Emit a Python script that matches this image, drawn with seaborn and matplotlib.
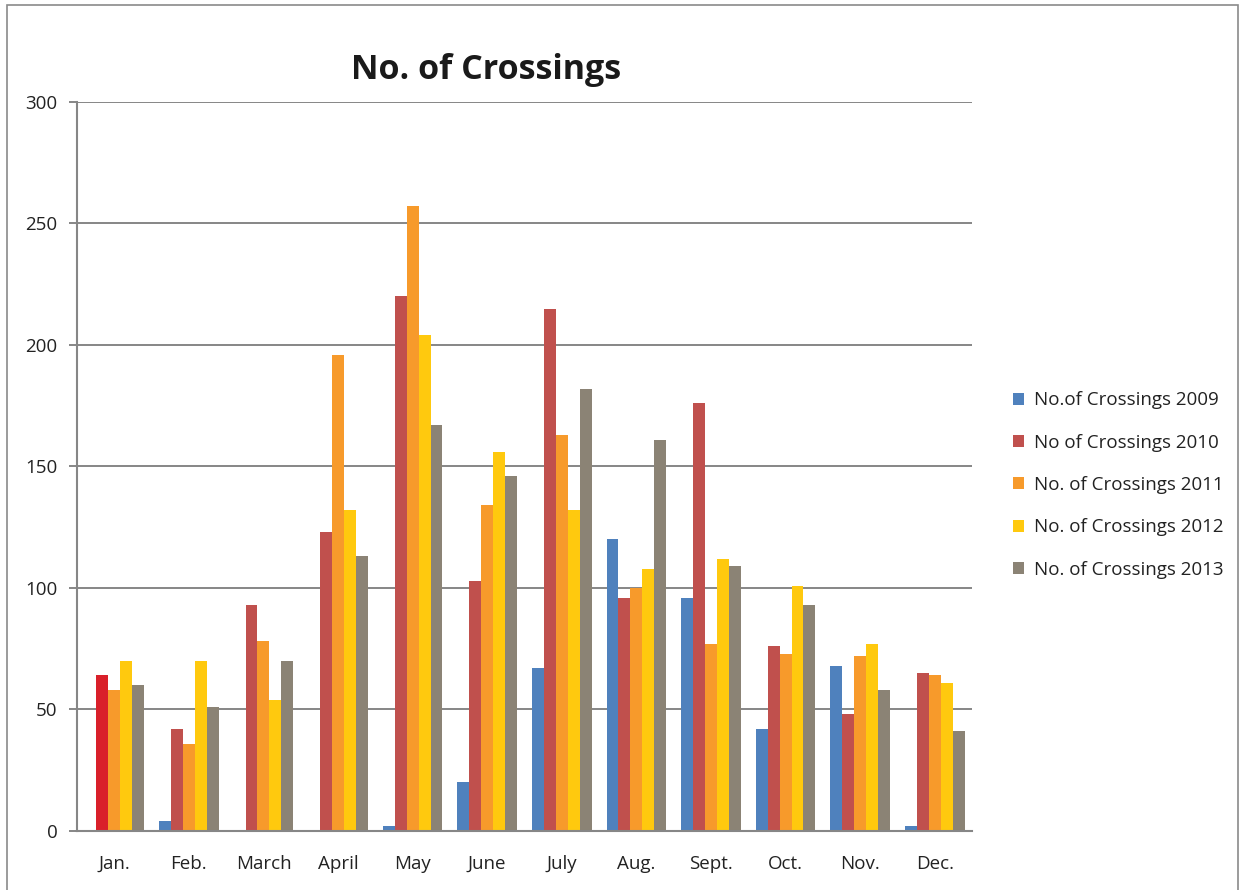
import matplotlib
matplotlib.use("Agg")
import matplotlib.pyplot as plt
from matplotlib.patches import Rectangle, Patch
import numpy as np
import pandas as pd
import seaborn as sns

months = ["Jan.", "Feb.", "March", "April", "May", "June", "July",
          "Aug.", "Sept.", "Oct.", "Nov.", "Dec."]
series_names = ["No.of Crossings 2009", "No of Crossings 2010",
                "No. of Crossings 2011", "No. of Crossings 2012",
                "No. of Crossings 2013"]
crossings_2009 = [0, 4, 0, 0, 2, 20, 67, 120, 96, 42, 68, 2]
crossings_2010 = [64, 42, 93, 123, 220, 103, 215, 96, 176, 76, 48, 65]
crossings_2011 = [58, 36, 78, 196, 257, 134, 163, 100, 77, 73, 72, 64]
crossings_2012 = [70, 70, 54, 132, 204, 156, 132, 108, 112, 101, 77, 61]
crossings_2013 = [60, 51, 70, 113, 167, 146, 182, 161, 109, 93, 58, 41]
y_ticks = [0, 50, 100, 150, 200, 250, 300]

colors = ["#4F81BD", "#C0504D", "#F79A2B", "#FFC90E", "#8B8375"]
jan_2010_color = "#D9202A"

all_series = [crossings_2009, crossings_2010, crossings_2011,
              crossings_2012, crossings_2013]
df = pd.DataFrame({
    "month": months * len(series_names),
    "series": np.repeat(series_names, len(months)),
    "value": np.concatenate(all_series),
})

sns.set_theme(style="white")
plt.rcParams["font.family"] = ["Open Sans", "DejaVu Sans"]

fig = plt.figure(figsize=(12.42, 8.9), dpi=100)
ax = fig.add_axes([0.062, 0.0663, 0.7206, 0.8191])

sns.barplot(data=df, x="month", y="value", hue="series", order=months,
            hue_order=series_names, palette=colors, width=0.8,
            linewidth=0, saturation=1, legend=False, ax=ax)

# January 2010 bar is highlighted in a brighter red
red_bars = ax.containers[1]
red_bars[0].set_facecolor(jan_2010_color)

grid_col = "#868686"
ax.set_ylim(0, 300)
ax.set_xlim(-0.5, len(months) - 0.5)
ax.set_yticks(y_ticks)
ax.set_yticklabels([str(t) for t in y_ticks], fontsize=13.5, color="#222222")
ax.yaxis.grid(True, color=grid_col, linewidth=1.4)
ax.set_axisbelow(True)
ax.set_xlabel("")
ax.set_ylabel("")
ax.tick_params(axis="x", which="major", length=0, pad=17, labelsize=13.5,
               labelcolor="#222222")
ax.set_xticks(np.arange(-0.5, len(months)), minor=True)
ax.tick_params(axis="x", which="minor", length=6, width=1.4, color=grid_col,
               direction="out")
ax.tick_params(axis="y", length=6, width=1.4, color=grid_col, pad=8,
               direction="out", left=True)
for side in ["top", "right"]:
    ax.spines[side].set_visible(False)
for side in ["left", "bottom"]:
    ax.spines[side].set_color(grid_col)
    ax.spines[side].set_linewidth(1.5)

fig.text(486 / 1242, 1 - 70 / 890, "No. of Crossings", ha="center",
         va="center", fontsize=24.5, fontweight="bold", color="#1a1a1a")

handles = [Patch(facecolor=c, edgecolor="none") for c in colors]
fig.legend(handles, series_names, loc="center left",
           bbox_to_anchor=(996 / 1242, 1 - 485 / 890), frameon=False,
           fontsize=13.5, handlelength=0.6, handleheight=0.6,
           handletextpad=0.55, labelspacing=1.3, labelcolor="#222222")

# chart border
fig.patches.append(Rectangle((7 / 1242, -0.01), 1231 / 1242, 1 - 5 / 890 + 0.01,
                             transform=fig.transFigure, fill=False,
                             edgecolor="#8a8a8a", linewidth=1.2))

fig.savefig("out.png", dpi=100, facecolor="white")
